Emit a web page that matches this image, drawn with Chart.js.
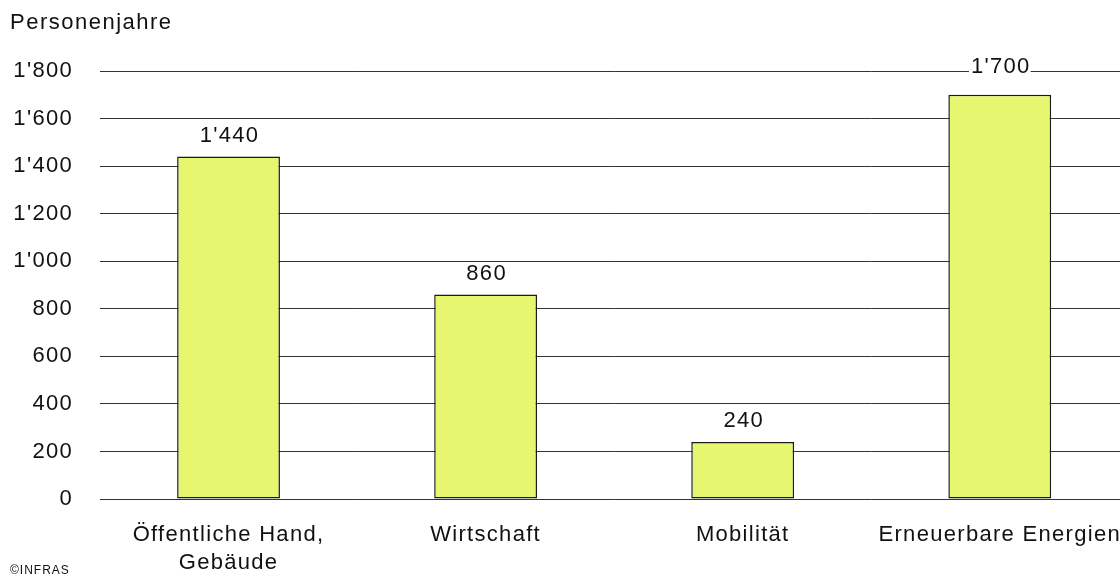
<!DOCTYPE html>
<html>
<head>
<meta charset="utf-8">
<script src="https://cdn.jsdelivr.net/npm/chart.js@4/dist/chart.umd.min.js"></script>
<style>
  html, body { margin: 0; padding: 0; background: #fff; overflow: hidden; width: 1120px; height: 579px; }
  canvas { display: block; }
</style>
</head>
<body>
<canvas id="c" width="1130" height="579" style="width:1130px;height:579px"></canvas>
<script>
const categories = [["Öffentliche Hand,", "Gebäude"], "Wirtschaft", "Mobilität", "Erneuerbare Energien"];
const values = [1440, 860, 240, 1700];
const valueLabels = ["1'440", "860", "240", "1'700"];
const yTicks = [0, 200, 400, 600, 800, 1000, 1200, 1400, 1600, 1800];
const yTickLabels = ["0", "200", "400", "600", "800", "1'000", "1'200", "1'400", "1'600", "1'800"];
const axisTitle = "Personenjahre";
const sourceNote = "©INFRAS";

const FONT = "'Liberation Sans', Arial, sans-serif";
const SPACING = '1.3px';

const decor = {
  id: 'decor',
  beforeDraw(chart) {
    chart.ctx.letterSpacing = SPACING;
  },
  afterDatasetsDraw(chart, args, opts) {
    const ctx = chart.ctx;
    const meta = chart.getDatasetMeta(0);
    ctx.save();
    ctx.letterSpacing = SPACING;
    ctx.font = '22px ' + FONT;
    ctx.textAlign = 'center';
    ctx.textBaseline = 'middle';
    meta.data.forEach((bar, i) => {
      const txt = valueLabels[i];
      const lift = opts.lifts[i];
      const w = ctx.measureText(txt).width;
      const y = bar.y - lift;
      ctx.fillStyle = '#fff';
      ctx.fillRect(bar.x - w / 2 - 1, y - 11, w + 2, 22);
      ctx.fillStyle = '#111';
      ctx.fillText(txt, bar.x + 1, y);
    });
    ctx.restore();
  },
  afterDraw(chart) {
    const ctx = chart.ctx;
    ctx.save();
    ctx.fillStyle = '#111';
    ctx.letterSpacing = '1.5px';
    ctx.font = '22px ' + FONT;
    ctx.textAlign = 'left';
    ctx.textBaseline = 'alphabetic';
    ctx.fillText(axisTitle, 10, 29);
    ctx.letterSpacing = '1px';
    ctx.font = '12px ' + FONT;
    ctx.textBaseline = 'middle';
    ctx.fillText(sourceNote, 10, 571);
    ctx.restore();
  }
};

new Chart(document.getElementById('c'), {
  type: 'bar',
  data: {
    labels: categories,
    datasets: [{
      data: values,
      backgroundColor: '#e6f76f',
      borderColor: '#1a1a1a',
      borderWidth: 1.5,
      borderSkipped: false,
      categoryPercentage: 1,
      barPercentage: 0.4
    }]
  },
  options: {
    responsive: false,
    animation: false,
    layout: { padding: { top: 71, left: 0, right: 0, bottom: 0 } },
    plugins: {
      legend: { display: false },
      tooltip: { enabled: false },
      title: { display: false },
      decor: { lifts: [21, 21, 21, 28] }
    },
    scales: {
      x: {
        offset: true,
        grid: { display: false, drawTicks: false },
        border: { display: false },
        ticks: {
          color: '#111',
          font: { family: FONT, size: 22, lineHeight: '28px' },
          padding: 22,
          maxRotation: 0,
          autoSkip: false
        },
        afterFit(scale) { scale.height = 80; }
      },
      y: {
        min: 0,
        max: 1800,
        afterBuildTicks(scale) { scale.ticks = yTicks.map(v => ({ value: v })); },
        grid: { color: '#333', lineWidth: 1, drawTicks: false },
        border: { display: false },
        ticks: {
          color: '#111',
          font: { family: FONT, size: 22 },
          padding: 27,
          callback(v) { const i = yTicks.indexOf(v); return i >= 0 ? yTickLabels[i] : ''; }
        },
        afterFit(scale) { scale.width = 100; }
      }
    }
  },
  plugins: [decor]
});
</script>
</body>
</html>
